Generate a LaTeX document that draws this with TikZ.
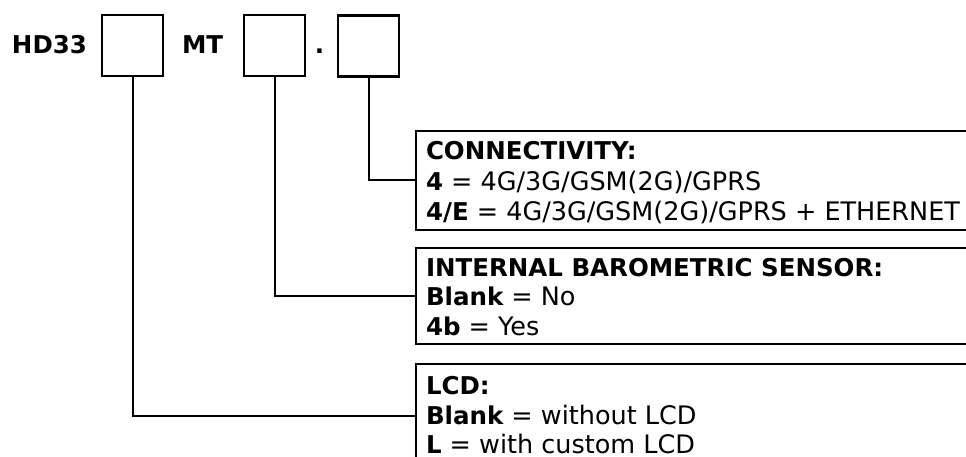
\documentclass[tikz,border=0pt]{standalone}
\usepackage{fontspec}
\setmainfont{DejaVu Sans}
\newcommand\keyb[1]{{\fontsize{24.5}{30}\selectfont\bfseries #1}}
\begin{document}
\begin{tikzpicture}[x=1pt,y=-1pt,
  every node/.style={font=\fontsize{25.5}{30}\selectfont, inner sep=0pt, outer sep=0pt},
  codebox/.style={draw, line width=2.2pt, minimum width=61pt, minimum height=61pt},
  infobox/.style={draw, line width=2.2pt, anchor=north west, minimum width=600pt},
  conn/.style={line width=2pt},
  txt/.style={anchor=base west}]
\useasboundingbox (0,0) rectangle (966,457);
\clip (0,0) rectangle (966,457);
% header
\node[txt] (hd) at (12,54) {\keyb{HD33}};
\node[codebox] (b1) at (132.5,45.5) {};
\node[txt] (mt) at (182,54) {\keyb{MT}};
\node[codebox] (b2) at (274.5,45.5) {};
\node[anchor=base] (dot) at (319.5,54) {\keyb{.}};
\node[codebox] (b3) at (368.5,46) {};
% info boxes
\node[infobox, minimum height=99pt] (cbox) at (416,131) {};
\node[infobox, minimum height=96pt] (ibox) at (416,248) {};
\node[infobox, minimum height=104pt] (lbox) at (416,364) {};
% texts
\node[txt] (c1) at (426,159.5) {\keyb{CONNECTIVITY:}};
\node[txt] (c2) at (426,190) {\keyb{4} = 4G/3G/GSM(2G)/GPRS};
\node[txt] (c3) at (426,220) {\keyb{4/E} = 4G/3G/GSM(2G)/GPRS + ETHERNET};
\node[txt] (i1) at (426,276) {\keyb{INTERNAL BAROMETRIC SENSOR:}};
\node[txt] (i2) at (426,305.5) {\keyb{Blank} = No};
\node[txt] (i3) at (426,335) {\keyb{4b} = Yes};
\node[txt] (l1) at (426,394) {\keyb{LCD:}};
\node[txt] (l2) at (426,424) {\keyb{Blank} = without LCD};
\node[txt] (l3) at (426,453) {\keyb{L} = with custom LCD};
% connectors
\draw[conn] (b3.south) |- (cbox.west);
\draw[conn] (b2.south) |- (ibox.west);
\draw[conn] (b1.south) |- (lbox.west);
\end{tikzpicture}
\end{document}
